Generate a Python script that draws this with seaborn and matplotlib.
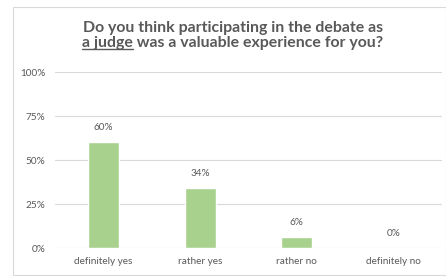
import matplotlib
matplotlib.use("Agg")
import matplotlib.pyplot as plt
import seaborn as sns
import pandas as pd
from matplotlib.patches import Rectangle
from matplotlib.lines import Line2D

categories = ["definitely yes", "rather yes", "rather no", "definitely no"]
values = [60, 34, 6, 0]
yticks = [0, 25, 50, 75, 100]
ytick_labels = ["0%", "25%", "50%", "75%", "100%"]
title_line1 = "Do you think participating in the debate as"
title_under = "a judge"
title_rest = " was a valuable experience for you?"

sns.set_theme(style="white")
plt.rcParams['font.family'] = ['Lato', 'DejaVu Sans']

grey = "#595959"
df = pd.DataFrame({"cat": categories, "val": values})

fig = plt.figure(figsize=(4.46, 2.76), dpi=100)
fig.patches.append(Rectangle((13/446, 1.5/276), 1 - 13/446 - 0.5/446, 1 - 1.5/276 - 7/276,
                             transform=fig.transFigure, fill=False,
                             edgecolor="#D9D9D9", linewidth=0.8))
ax = fig.add_axes([55/446, 1 - 248/276, (442-55)/446, (248-72)/276])
sns.barplot(data=df, x="cat", y="val", color="#A9D18E", width=0.32,
            saturation=1, ax=ax, zorder=3)
ax.set_ylim(0, 100)
ax.set_yticks(yticks)
ax.set_yticklabels(ytick_labels)
ax.set_xlabel("")
ax.set_ylabel("")
ax.grid(axis="y", color="#D9D9D9", linewidth=0.8, zorder=0)
for s in ax.spines.values():
    s.set_visible(False)
ax.tick_params(axis="both", length=0, labelsize=7.2, colors=grey)
ax.tick_params(axis="x", pad=6.5)
ax.tick_params(axis="y", pad=7)
for i, v in enumerate(values):
    ax.annotate(f"{v}%", (i, v), xytext=(0, 7.5), textcoords="offset points",
                ha="center", va="bottom", fontsize=7.2, color=grey)

fs = 11.4
cx = 233/446
fig.text(cx, 1 - 28/276, title_line1, ha="center", va="center",
         fontsize=fs, fontweight="bold", color=grey)
t2 = fig.text(cx, 1 - 43/276, title_under + title_rest, ha="center", va="center",
              fontsize=fs, fontweight="bold", color=grey)
fig.canvas.draw()
r = fig.canvas.get_renderer()
bb = t2.get_window_extent(r)
tmp = fig.text(0, 0, title_under, fontsize=fs, fontweight="bold")
w = tmp.get_window_extent(r).width
tmp.remove()
x0 = bb.x0 / fig.bbox.width
x1 = (bb.x0 + w) / fig.bbox.width
yl = (bb.y0 + 1.0) / fig.bbox.height
fig.lines.append(Line2D([x0, x1], [yl, yl], transform=fig.transFigure,
                        color=grey, linewidth=1.0))

fig.savefig("out.png", dpi=100)
